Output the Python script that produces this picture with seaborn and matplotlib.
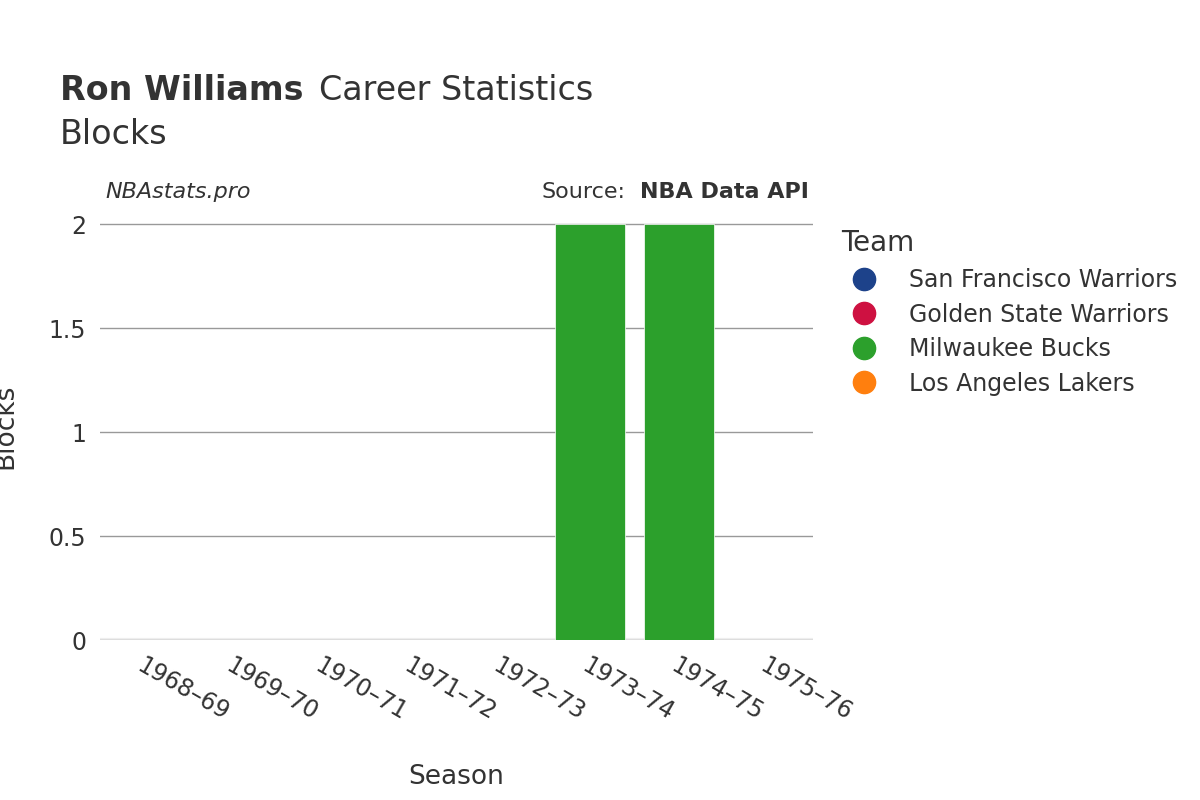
import pandas as pd
import matplotlib
matplotlib.use("Agg")
import matplotlib.pyplot as plt
import seaborn as sns
from matplotlib.lines import Line2D

# data
seasons = ["1968–69", "1969–70", "1970–71", "1971–72", "1972–73", "1973–74", "1974–75", "1975–76"]
teams = ["San Francisco Warriors", "San Francisco Warriors", "San Francisco Warriors",
         "Golden State Warriors", "Golden State Warriors",
         "Milwaukee Bucks", "Milwaukee Bucks", "Los Angeles Lakers"]
blocks = [0, 0, 0, 0, 0, 2, 2, 0]

team_order = ["San Francisco Warriors", "Golden State Warriors", "Milwaukee Bucks", "Los Angeles Lakers"]
team_colors = ["#1d428a", "#ce1141", "#2ca02c", "#ff7f0e"]

df = pd.DataFrame({"Season": seasons, "Team": teams, "Blocks": blocks})

txt = "#333333"
fig = plt.figure(figsize=(12, 8), dpi=100)
ax = fig.add_axes([0.0833, 0.2, 0.594, 0.535])

sns.barplot(data=df, x="Season", y="Blocks", hue="Team", hue_order=team_order,
            palette=team_colors, saturation=1, dodge=False, width=0.79, ax=ax, legend=False,
            edgecolor="white", linewidth=0.5)

ax.set_ylim(0, 2.06)
ax.set_xlim(-0.5, 7.5)
ax.set_yticks([0, 0.5, 1, 1.5, 2])
ax.set_yticklabels(["0", "0.5", "1", "1.5", "2"])
ax.yaxis.grid(True, color="#999999", linewidth=1)
ax.set_axisbelow(True)
ax.axhline(0, color="#eeeeee", linewidth=3, zorder=0.5)
for s in ax.spines.values():
    s.set_visible(False)
ax.tick_params(axis="both", length=0, labelsize=17, colors=txt, pad=10)
for lab in ax.get_xticklabels():
    lab.set_rotation(-30)
    lab.set_ha("left")
    lab.set_rotation_mode("anchor")
ax.set_xlabel("Season", fontsize=19, color=txt, labelpad=28)
ax.set_ylabel("Blocks", fontsize=19, color=txt, labelpad=22)

fig.text(0.05, 0.875, "Ron Williams", fontsize=24, fontweight="bold", color=txt)
fig.text(0.266, 0.875, "Career Statistics", fontsize=24, color=txt)
fig.text(0.05, 0.82, "Blocks", fontsize=24, color=txt)
fig.text(0.088, 0.752, "NBAstats.pro", fontsize=16, style="italic", color=txt)
fig.text(0.674, 0.752, "NBA Data API", fontsize=16, fontweight="bold", color=txt, ha="right")
fig.text(0.521, 0.752, "Source:", fontsize=16, color=txt, ha="right")

handles = [Line2D([0], [0], marker="o", linestyle="", markersize=16, markerfacecolor=c,
                  markeredgecolor=c) for c in team_colors]
leg = fig.legend(handles, team_order, loc="upper left", bbox_to_anchor=(0.683, 0.74),
                 frameon=False, fontsize=17, title="Team", title_fontsize=20,
                 labelspacing=0.45, handletextpad=0.9, alignment="left")
for t in leg.get_texts():
    t.set_color(txt)
leg.get_title().set_color(txt)

fig.savefig("out.png", dpi=100)
